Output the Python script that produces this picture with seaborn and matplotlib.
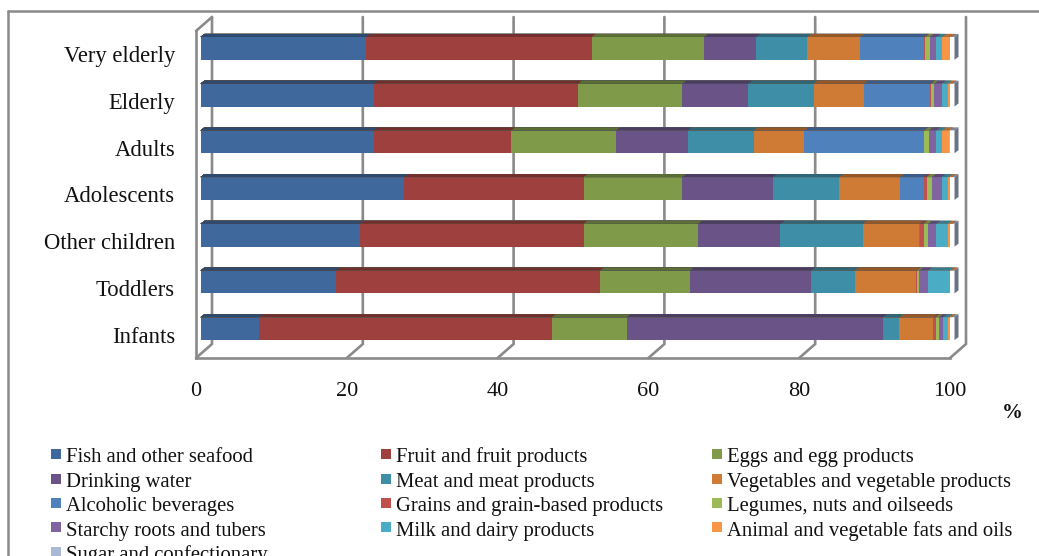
import numpy as np
import pandas as pd
import matplotlib
matplotlib.use("Agg")
import matplotlib.pyplot as plt
import matplotlib.colors as mcolors
import seaborn as sns
from matplotlib.lines import Line2D
from matplotlib.patches import Polygon
from matplotlib.transforms import IdentityTransform, ScaledTranslation

# ---------------- data ----------------
groups = ["Very elderly", "Elderly", "Adults", "Adolescents",
          "Other children", "Toddlers", "Infants"]
food_groups = ["Fish and other seafood", "Fruit and fruit products", "Eggs and egg products",
               "Drinking water", "Meat and meat products", "Vegetables and vegetable products",
               "Alcoholic beverages", "Grains and grain-based products", "Legumes, nuts and oilseeds",
               "Starchy roots and tubers", "Milk and dairy products",
               "Animal and vegetable fats and oils", "Sugar and confectionary"]
fish    = [22.0, 23.0, 23.0, 27.0, 21.1, 18.0, 7.8]
fruit   = [29.9, 27.1, 18.2, 23.8, 29.7, 35.0, 38.8]
eggs    = [14.9, 13.8, 13.9, 13.1, 15.2, 11.9, 9.9]
water   = [6.9, 8.7, 9.5, 12.0, 10.9, 16.1, 34.0]
meat    = [6.8, 8.7, 8.8, 8.8, 10.9, 5.8, 2.2]
veg     = [7.0, 6.7, 6.7, 8.1, 7.5, 8.1, 4.5]
alcohol = [8.4, 8.8, 15.8, 3.1, 0.1, 0.0, 0.0]
grains  = [0.2, 0.1, 0.1, 0.4, 0.5, 0.1, 0.3]
legumes = [0.6, 0.4, 0.6, 0.7, 0.6, 0.3, 0.4]
starchy = [0.9, 1.0, 1.0, 1.3, 1.1, 1.2, 0.6]
milk    = [0.8, 0.8, 0.8, 0.9, 1.5, 2.9, 0.7]
fats    = [1.2, 0.6, 0.9, 0.5, 0.6, 0.5, 0.4]
sugar   = [0.4, 0.3, 0.7, 0.3, 0.3, 0.1, 0.4]
series = [fish, fruit, eggs, water, meat, veg, alcohol, grains, legumes,
          starchy, milk, fats, sugar]
colors = ["#3F689C", "#9E413E", "#7F9A48", "#695387", "#3D8EA6", "#D07B35",
          "#4F81BD", "#C0504D", "#9BBB59", "#8064A2", "#4BACC6", "#F79646",
          "#A9B9D6"]
xticks = [0, 20, 40, 60, 80, 100]

# ---------------- style ----------------
sns.set_style("white")
plt.rcParams["font.family"] = ["Liberation Serif", "DejaVu Serif"]
GRAY = "#8a8a8a"
TXT = "#111111"

W, H = 1039, 556
fig = plt.figure(figsize=(W / 100, H / 100), dpi=100)
ax = fig.add_axes([196 / W, (H - 358) / H, (950 - 196) / W, (358 - 31) / H])
ax.patch.set_visible(False)

df = pd.DataFrame({"group": groups})
cum = np.cumsum(np.array(series), axis=0)
for k in range(len(series) - 1, -1, -1):
    df["val"] = cum[k]
    sns.barplot(data=df, x="val", y="group", order=groups, orient="y",
                color=colors[k], saturation=1, width=0.49, errorbar=None,
                linewidth=0, edgecolor="none", ax=ax)

ax.set_xlim(0, 100)
ax.set_ylim(6.5, -0.5)
ax.set_xlabel("")
ax.set_ylabel("")
for s in ["top", "right"]:
    ax.spines[s].set_visible(False)
for s in ["left", "bottom"]:
    ax.spines[s].set_color(GRAY)
    ax.spines[s].set_linewidth(1.9)

ax.set_xticks(xticks)
ax.set_xticklabels([str(v) for v in xticks])
ax.tick_params(axis="x", direction="out", length=5, width=1.5, color=GRAY,
               pad=12.5, labelsize=16, labelcolor=TXT)
ax.set_yticks(range(len(groups)))
ax.set_yticklabels(groups)
ax.tick_params(axis="y", which="major", length=0, pad=15, labelsize=16.3, labelcolor=TXT)
ax.set_yticks(np.arange(-0.5, len(groups), 1), minor=True)
ax.tick_params(axis="y", which="minor", direction="out", length=4.3, width=1.5, color=GRAY)

# ---------------- pseudo 3-D decoration ----------------
BX, BY = 16, 14          # back wall offset (px)
OX, OY = 4.5, 6          # bar depth offset (px)
DX, DY = 4, 3            # bar top/side face depth (px)

def disp(x, y):
    return ax.transData.transform((x, y))

grid_kw = dict(color=GRAY, lw=1.9, transform=IdentityTransform(),
               clip_on=False, zorder=0.5, solid_joinstyle="miter")
for v in xticks:
    fx, fy = disp(v, 6.5)
    tx, ty = disp(v, -0.5)
    ax.add_line(Line2D([fx, fx + BX, tx + BX], [fy, fy + BY, ty + BY], **grid_kw))
fx, fy = disp(0, -0.5)
ax.add_line(Line2D([fx, fx + BX], [fy, fy + BY], **grid_kw))

off = ScaledTranslation(OX / 100, OY / 100, fig.dpi_scale_trans)
bars = list(ax.patches)
for p in bars:
    p.set_transform(ax.transData + off)

def darker(c, f=0.72):
    r, g, b, a = mcolors.to_rgba(c)
    return (r * f, g * f, b * f, 1)

n_g = len(groups)
for i, p in enumerate(bars):
    bb = p.get_window_extent()
    x0, x1, y0, y1 = bb.x0, bb.x1, bb.y0, bb.y1
    if x1 - x0 < 0.01:
        continue
    fc = p.get_facecolor()
    ax.add_patch(Polygon([[x0, y1], [x1, y1], [x1 + DX, y1 + DY], [x0 + DX, y1 + DY]],
                         closed=True, transform=IdentityTransform(), facecolor=darker(fc),
                         edgecolor="none", clip_on=False, zorder=p.get_zorder()))
    if i < n_g:
        ax.add_patch(Polygon([[x1, y0], [x1 + DX, y0 + DY], [x1 + DX, y1 + DY], [x1, y1]],
                             closed=True, transform=IdentityTransform(),
                             facecolor=darker(fc, 0.62), edgecolor="none",
                             clip_on=False, zorder=p.get_zorder()))

# ---------------- outer frame ----------------
fig.add_artist(Line2D([8 / W, 8 / W], [0, 1 - 11 / H], color=GRAY, lw=1.8,
                      transform=fig.transFigure))
fig.add_artist(Line2D([8 / W, 1], [1 - 11 / H, 1 - 11 / H], color=GRAY, lw=1.8,
                      transform=fig.transFigure))

fig.text(1012 / W, 1 - 413 / H, "%", ha="center", va="center", fontsize=15,
         fontweight="bold", color=TXT)

# ---------------- legend (3 columns, row-major) ----------------
col_x = [50, 380, 711]
for c in range(3):
    idxs = list(range(c, len(food_groups), 3))
    handles = [Line2D([], [], ls="", marker="s", markersize=7.8, markeredgewidth=0,
                      color=colors[i]) for i in idxs]
    labels = [food_groups[i] for i in idxs]
    fig.legend(handles, labels, loc="upper left",
               bbox_to_anchor=(col_x[c] / W, 1 - 446 / H), bbox_transform=fig.transFigure,
               frameon=False, fontsize=14.9, handlelength=0.55, handleheight=1.0,
               handletextpad=0.2, labelspacing=0.148, borderpad=0, borderaxespad=0,
               labelcolor=TXT)

fig.savefig("out.png", dpi=100)
